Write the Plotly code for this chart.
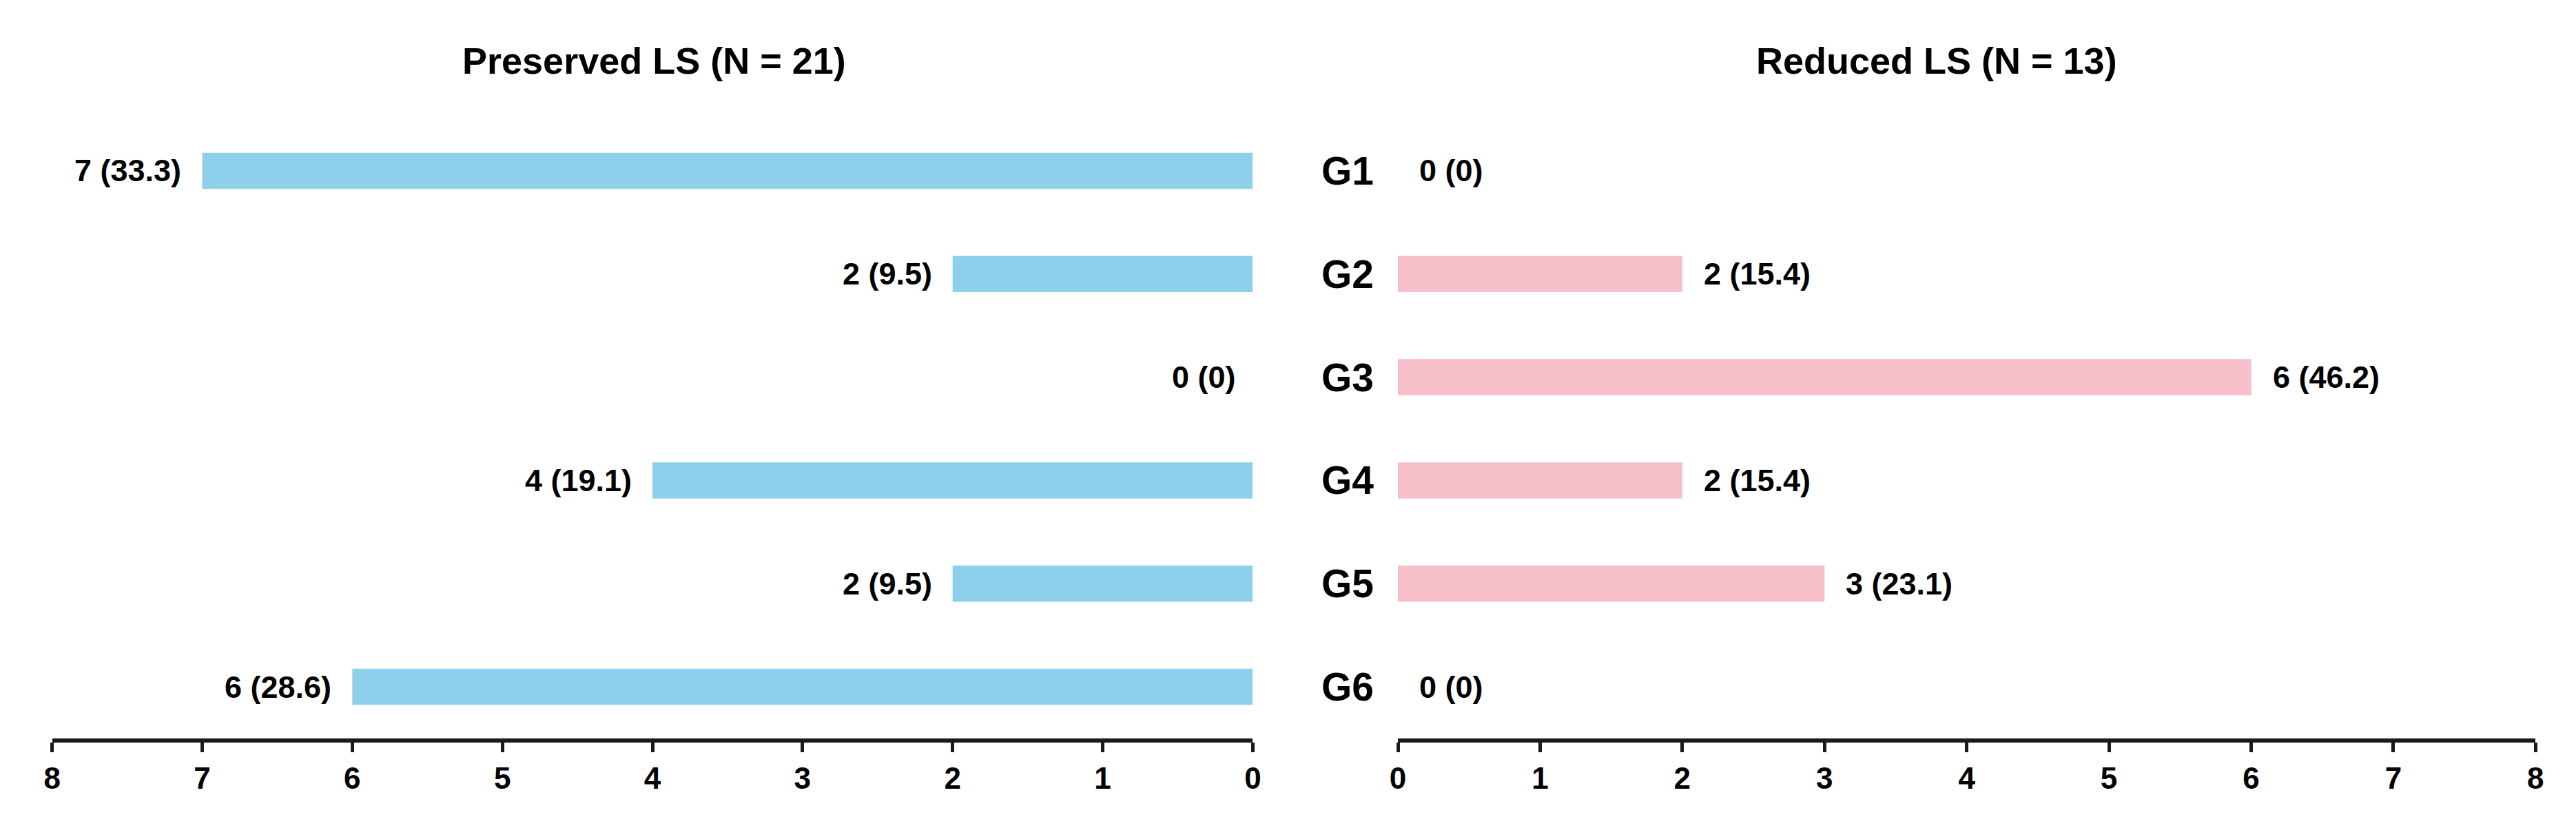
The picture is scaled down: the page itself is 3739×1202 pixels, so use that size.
import plotly.graph_objects as go

# ---- data ----
groups = ["G1", "G2", "G3", "G4", "G5", "G6"]
preserved_counts = [7, 2, 0, 4, 2, 6]
preserved_pct = ["33.3", "9.5", "0", "19.1", "9.5", "28.6"]
reduced_counts = [0, 2, 6, 2, 3, 0]
reduced_pct = ["0", "15.4", "46.2", "15.4", "23.1", "0"]
x_ticks = [0, 1, 2, 3, 4, 5, 6, 7, 8]
title_left = "Preserved LS (N = 21)"
title_right = "Reduced LS (N = 13)"

W, H = 3739, 1202
FONT = "Liberation Sans, Arial, Helvetica, sans-serif"
BLUE = "#8ED0EB"
PINK = "#F6BFC9"
AXCOL = "#1a1a1a"

def px_x(p):
    return p / W

def px_y(p):
    return 1 - p / H

fig = go.Figure()

fig.add_trace(go.Bar(
    y=groups, x=preserved_counts, orientation="h",
    marker=dict(color=BLUE, line=dict(width=0)), width=0.35,
    xaxis="x", yaxis="y", showlegend=False, hoverinfo="skip",
))
fig.add_trace(go.Bar(
    y=groups, x=reduced_counts, orientation="h",
    marker=dict(color=PINK, line=dict(width=0)), width=0.35,
    xaxis="x2", yaxis="y2", showlegend=False, hoverinfo="skip",
))

annotations = []
for g, c, p in zip(groups, preserved_counts, preserved_pct):
    annotations.append(dict(
        x=c, y=g, xref="x", yref="y", text=f"{c} ({p})",
        xanchor="right", yanchor="middle", xshift=-28 if c else -22, showarrow=False,
        font=dict(family=FONT, size=45, color="black", weight="bold"),
    ))
for g, c, p in zip(groups, reduced_counts, reduced_pct):
    annotations.append(dict(
        x=c, y=g, xref="x2", yref="y2", text=f"{c} ({p})",
        xanchor="left", yanchor="middle", xshift=29, showarrow=False,
        font=dict(family=FONT, size=45, color="black", weight="bold"),
    ))
annotations.append(dict(
    x=px_x(936), y=px_y(80), xref="paper", yref="paper", text=title_left,
    xanchor="center", yanchor="middle", showarrow=False,
    font=dict(family=FONT, size=54, color="black", weight="bold"),
))
annotations.append(dict(
    x=px_x(2809), y=px_y(80), xref="paper", yref="paper", text=title_right,
    xanchor="center", yanchor="middle", showarrow=False,
    font=dict(family=FONT, size=54, color="black", weight="bold"),
))

xaxis_common = dict(
    tickvals=x_ticks, ticktext=[str(v) for v in x_ticks],
    showgrid=False, zeroline=False, showline=True, linecolor=AXCOL, linewidth=6,
    ticks="outside", ticklen=14, tickwidth=5, tickcolor=AXCOL,
    tickfont=dict(family=FONT, size=44, color="black", weight="bold"),
    fixedrange=True,
)
ydomain = [px_y(1064), px_y(165)]

fig.update_layout(
    width=W, height=H,
    margin=dict(l=0, r=0, t=0, b=0),
    paper_bgcolor="white", plot_bgcolor="white",
    annotations=annotations,
    xaxis=dict(domain=[px_x(56), px_x(1810)], range=[8, 0], anchor="y", **xaxis_common),
    xaxis2=dict(domain=[px_x(2022), px_x(3684)], range=[0, 8], anchor="y2", **xaxis_common),
    yaxis=dict(domain=ydomain, type="category", categoryorder="array", categoryarray=groups,
               range=[5.5, -0.5], anchor="x", showticklabels=False, showline=False,
               showgrid=False, zeroline=False, ticks=""),
    yaxis2=dict(domain=ydomain, type="category", categoryorder="array", categoryarray=groups,
                range=[5.5, -0.5], anchor="x2", showticklabels=True, showline=False,
                showgrid=False, zeroline=False, ticks="", ticklabelstandoff=34,
                tickfont=dict(family=FONT, size=57, color="black", weight="bold")),
    bargap=0.65,
)

fig.write_html("out.html")
